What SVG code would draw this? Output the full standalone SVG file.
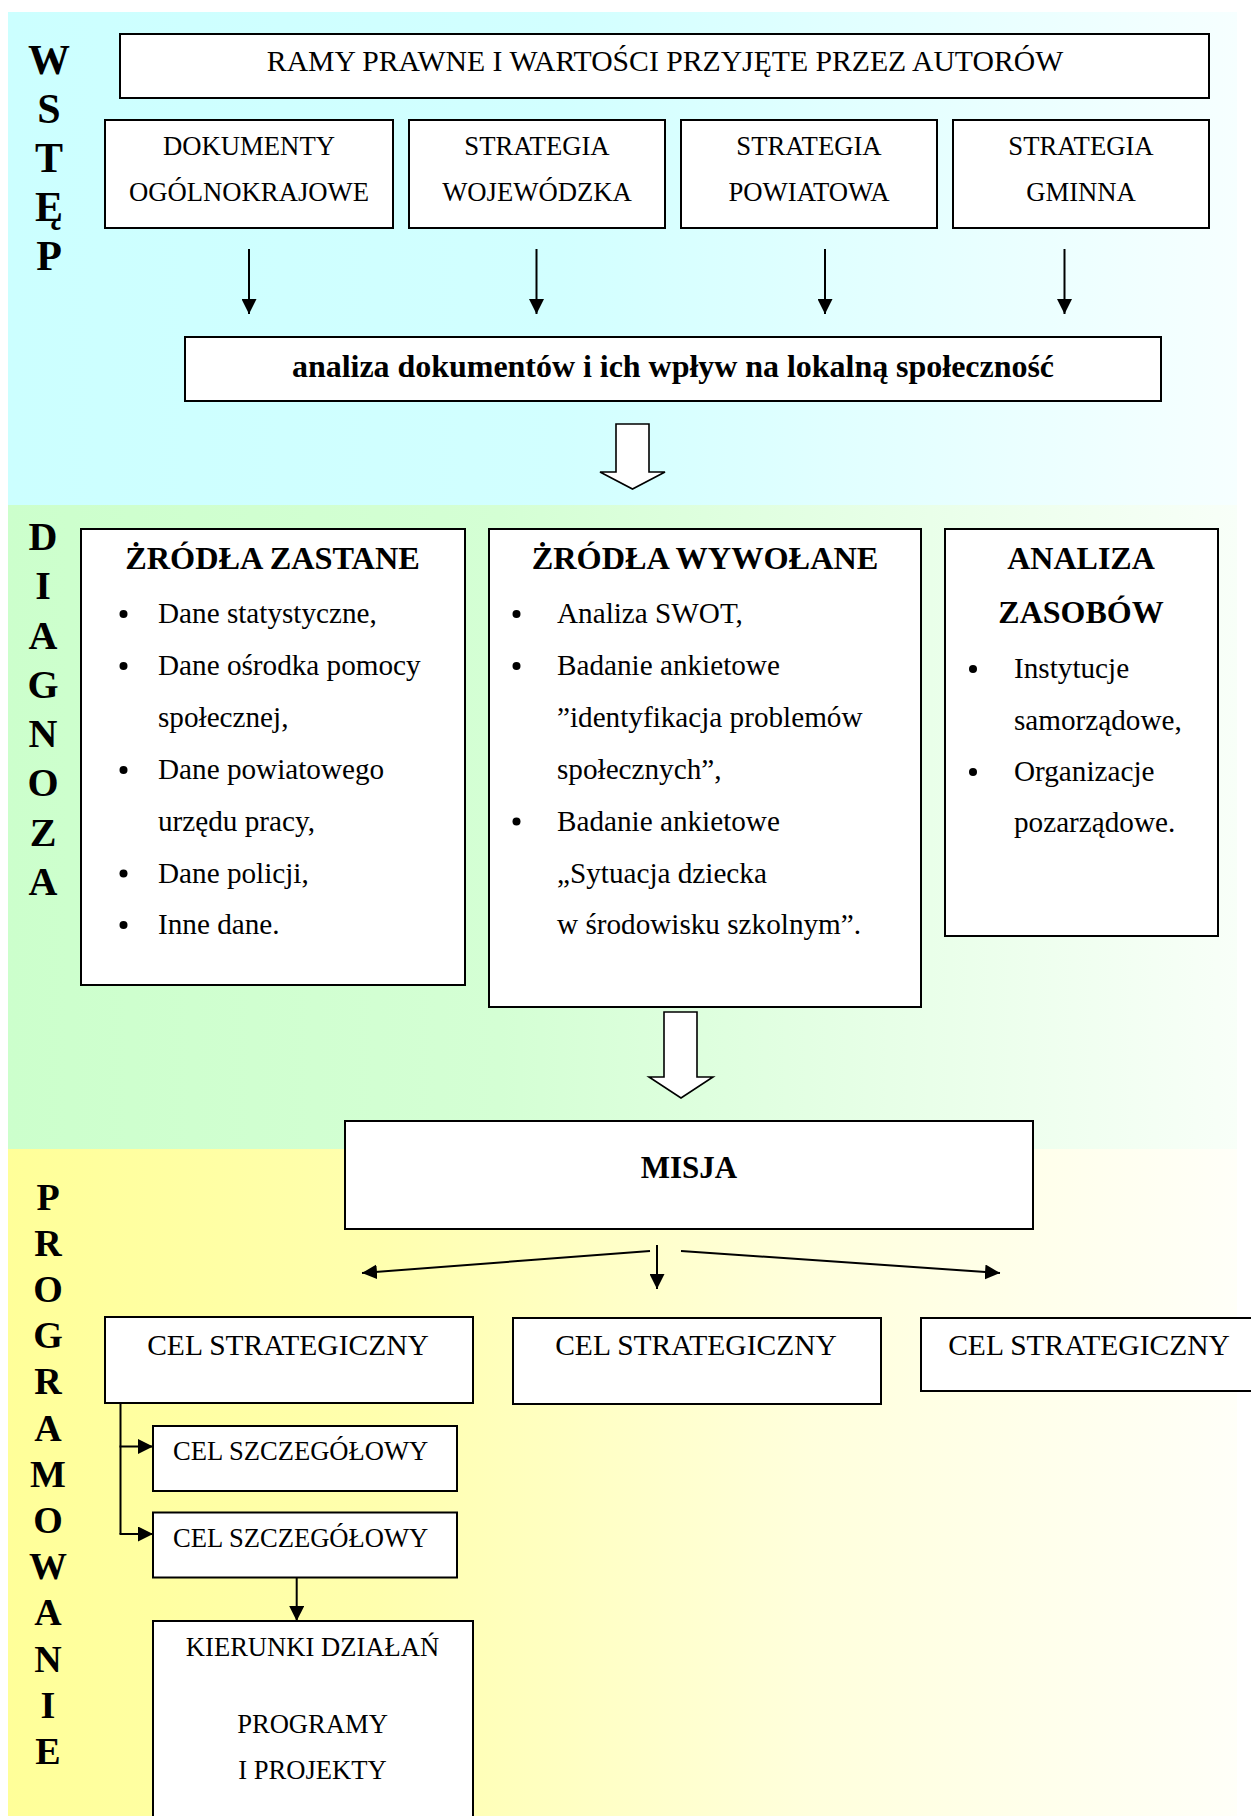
<svg xmlns="http://www.w3.org/2000/svg" width="1251" height="1816" viewBox="0 0 1251 1816">
<style>
.t{font-family:"Liberation Serif","Times New Roman",serif;fill:#000}
.b{font-weight:bold}
.c{text-anchor:middle}
.box{fill:#fff;stroke:#000;stroke-width:2}
.ln{fill:none;stroke:#000;stroke-width:2}
.hollow{fill:#fff;stroke:#000;stroke-width:1.6;stroke-linejoin:miter}
.side{font-family:"Liberation Serif","Times New Roman",serif;font-weight:bold;text-anchor:middle;fill:#000}
</style>
<defs>
<linearGradient id="gc" x1="0" y1="0" x2="1" y2="0">
<stop offset="0" stop-color="#CCFFFF"/><stop offset="0.45" stop-color="#D2FFFF"/><stop offset="1" stop-color="#F6FFFF"/>
</linearGradient>
<linearGradient id="gg" x1="0" y1="0" x2="1" y2="0">
<stop offset="0" stop-color="#CCFFCC"/><stop offset="0.4" stop-color="#D4FFD4"/><stop offset="1" stop-color="#F8FFF8"/>
</linearGradient>
<linearGradient id="gy" x1="0" y1="0" x2="1" y2="0">
<stop offset="0" stop-color="#FFFF99"/><stop offset="0.3" stop-color="#FFFFAE"/><stop offset="0.65" stop-color="#FFFFDC"/><stop offset="1" stop-color="#FFFFF8"/>
</linearGradient>
<marker id="ah" viewBox="0 0 10 10" refX="10" refY="5" markerWidth="15" markerHeight="15" markerUnits="userSpaceOnUse" orient="auto">
<path d="M0,0 L10,5 L0,10 z" fill="#000"/>
</marker>
</defs>

<g id="background">
<rect x="8" y="12" width="1229" height="493" fill="url(#gc)"/>
<rect x="8" y="505" width="1229" height="644" fill="url(#gg)"/>
<rect x="8" y="1149" width="1229" height="667" fill="url(#gy)"/>
</g>

<g id="label-wstep">
<text class="side" font-size="42"><tspan x="49" y="74">W</tspan><tspan x="49" y="123">S</tspan><tspan x="49" y="172">T</tspan><tspan x="49" y="221">Ę</tspan><tspan x="49" y="270">P</tspan></text>
</g>
<g id="label-diagnoza">
<text class="side" font-size="40"><tspan x="43" y="550">D</tspan><tspan x="43" y="599">I</tspan><tspan x="43" y="648.5">A</tspan><tspan x="43" y="698">G</tspan><tspan x="43" y="747">N</tspan><tspan x="43" y="796">O</tspan><tspan x="43" y="846">Z</tspan><tspan x="43" y="895">A</tspan></text>
</g>
<g id="label-programowanie">
<text class="side" font-size="38"><tspan x="48" y="1209.5">P</tspan><tspan x="48" y="1255.7">R</tspan><tspan x="48" y="1301.9">O</tspan><tspan x="48" y="1348.1">G</tspan><tspan x="48" y="1394.3">R</tspan><tspan x="48" y="1440.5">A</tspan><tspan x="48" y="1486.7">M</tspan><tspan x="48" y="1532.9">O</tspan><tspan x="48" y="1579.1">W</tspan><tspan x="48" y="1625.3">A</tspan><tspan x="48" y="1671.5">N</tspan><tspan x="48" y="1717.7">I</tspan><tspan x="48" y="1763.9">E</tspan></text>
</g>

<g id="connectors">
<line class="ln" x1="249" y1="249" x2="249" y2="314" marker-end="url(#ah)"/>
<line class="ln" x1="536.5" y1="249" x2="536.5" y2="314" marker-end="url(#ah)"/>
<line class="ln" x1="825" y1="249" x2="825" y2="314" marker-end="url(#ah)"/>
<line class="ln" x1="1064.5" y1="249" x2="1064.5" y2="314" marker-end="url(#ah)"/>
<polygon class="hollow" points="616,424 649,424 649,472 665,472 632.5,489 600,472 616,472"/>
<polygon class="hollow" points="664,1012 697,1012 697,1077 713,1077 681,1098 649,1077 664,1077"/>
<line class="ln" x1="657" y1="1245" x2="657" y2="1289" marker-end="url(#ah)"/>
<line class="ln" x1="650" y1="1251" x2="362" y2="1273" marker-end="url(#ah)"/>
<line class="ln" x1="681" y1="1251" x2="1000" y2="1273" marker-end="url(#ah)"/>
<path class="ln" d="M120.5,1403 V1534"/>
<line class="ln" x1="119.5" y1="1446.5" x2="153" y2="1446.5" marker-end="url(#ah)"/>
<line class="ln" x1="119.5" y1="1534" x2="153" y2="1534" marker-end="url(#ah)"/>
<line class="ln" x1="296.7" y1="1577.5" x2="296.7" y2="1621" marker-end="url(#ah)"/>
</g>

<g id="node-ramy">
<rect class="box" x="120" y="34" width="1089" height="64"/>
<text class="t c" x="665" y="71" font-size="29.7">RAMY PRAWNE I WARTOŚCI PRZYJĘTE PRZEZ AUTORÓW</text>
</g>
<g id="node-dokumenty">
<rect class="box" x="105" y="120" width="288" height="108"/>
<text class="t c" x="249" y="155" font-size="26.7">DOKUMENTY</text>
<text class="t c" x="249" y="201" font-size="26.7">OGÓLNOKRAJOWE</text>
</g>
<g id="node-wojewodzka">
<rect class="box" x="409" y="120" width="256" height="108"/>
<text class="t c" x="537" y="155" font-size="26.7">STRATEGIA</text>
<text class="t c" x="537" y="201" font-size="26.7">WOJEWÓDZKA</text>
</g>
<g id="node-powiatowa">
<rect class="box" x="681" y="120" width="256" height="108"/>
<text class="t c" x="809" y="155" font-size="26.7">STRATEGIA</text>
<text class="t c" x="809" y="201" font-size="26.7">POWIATOWA</text>
</g>
<g id="node-gminna">
<rect class="box" x="953" y="120" width="256" height="108"/>
<text class="t c" x="1081" y="155" font-size="26.7">STRATEGIA</text>
<text class="t c" x="1081" y="201" font-size="26.7">GMINNA</text>
</g>
<g id="node-analiza">
<rect class="box" x="185" y="337" width="976" height="64"/>
<text class="t b c" x="673" y="377" font-size="32" textLength="762" lengthAdjust="spacing">analiza dokumentów i ich wpływ na lokalną społeczność</text>
</g>

<g id="node-zastane">
<rect class="box" x="81" y="529" width="384" height="456"/>
<text class="t b c" x="272.5" y="569" font-size="32.3">ŻRÓDŁA ZASTANE</text>
<circle cx="123.5" cy="614" r="4"/>
<circle cx="123.5" cy="666" r="4"/>
<circle cx="123.5" cy="770" r="4"/>
<circle cx="123.5" cy="873.5" r="4"/>
<circle cx="123.5" cy="925" r="4"/>
<text class="t" x="158" y="623" font-size="29.2">Dane statystyczne,</text>
<text class="t" x="158" y="675" font-size="29.2">Dane ośrodka pomocy</text>
<text class="t" x="158" y="727" font-size="29.2">społecznej,</text>
<text class="t" x="158" y="779" font-size="29.2">Dane powiatowego</text>
<text class="t" x="158" y="830.5" font-size="29.2">urzędu pracy,</text>
<text class="t" x="158" y="882.5" font-size="29.2">Dane policji,</text>
<text class="t" x="158" y="934" font-size="29.2">Inne dane.</text>
</g>
<g id="node-wywolane">
<rect class="box" x="489" y="529" width="432" height="478"/>
<text class="t b c" x="705" y="569" font-size="32.3">ŻRÓDŁA WYWOŁANE</text>
<circle cx="516.5" cy="614" r="4"/>
<circle cx="516.5" cy="666" r="4"/>
<circle cx="516.5" cy="821.5" r="4"/>
<text class="t" x="557" y="623" font-size="29.2">Analiza SWOT,</text>
<text class="t" x="557" y="675" font-size="29.2">Badanie ankietowe</text>
<text class="t" x="557" y="727" font-size="29.2">”identyfikacja problemów</text>
<text class="t" x="557" y="779" font-size="29.2">społecznych”,</text>
<text class="t" x="557" y="830.5" font-size="29.2">Badanie ankietowe</text>
<text class="t" x="557" y="882.5" font-size="29.2">„Sytuacja dziecka</text>
<text class="t" x="557" y="934" font-size="29.2">w środowisku szkolnym”.</text>
</g>
<g id="node-zasoby">
<rect class="box" x="945" y="529" width="273" height="407"/>
<text class="t b c" x="1081" y="569" font-size="32">ANALIZA</text>
<text class="t b c" x="1081" y="623" font-size="32">ZASOBÓW</text>
<circle cx="973" cy="669" r="4"/>
<circle cx="973" cy="772" r="4"/>
<text class="t" x="1014" y="678" font-size="29.2">Instytucje</text>
<text class="t" x="1014" y="729.5" font-size="29.2">samorządowe,</text>
<text class="t" x="1014" y="781" font-size="29.2">Organizacje</text>
<text class="t" x="1014" y="832" font-size="29.2">pozarządowe.</text>
</g>

<g id="node-misja">
<rect class="box" x="345" y="1121" width="688" height="108"/>
<text class="t b c" x="689" y="1178" font-size="31">MISJA</text>
</g>
<g id="node-cel1">
<rect class="box" x="105" y="1317" width="368" height="86"/>
<text class="t c" x="288" y="1355" font-size="29.5">CEL STRATEGICZNY</text>
</g>
<g id="node-cel2">
<rect class="box" x="513" y="1318" width="368" height="86"/>
<text class="t c" x="696" y="1355" font-size="29.5">CEL STRATEGICZNY</text>
</g>
<g id="node-cel3">
<rect class="box" x="921" y="1318" width="336" height="73"/>
<text class="t c" x="1089" y="1355" font-size="29.5">CEL STRATEGICZNY</text>
</g>
<g id="node-szczegolowy1">
<rect class="box" x="153" y="1426" width="304" height="65"/>
<text class="t" x="173" y="1460" font-size="26.6">CEL SZCZEGÓŁOWY</text>
</g>
<g id="node-szczegolowy2">
<rect class="box" x="153" y="1512.5" width="304" height="65"/>
<text class="t" x="173" y="1547" font-size="26.6">CEL SZCZEGÓŁOWY</text>
</g>
<g id="node-kierunki">
<rect class="box" x="153" y="1621" width="320" height="220"/>
<text class="t c" x="312.5" y="1656" font-size="26.6">KIERUNKI DZIAŁAŃ</text>
<text class="t c" x="312.5" y="1733" font-size="26.6">PROGRAMY</text>
<text class="t c" x="312.5" y="1779" font-size="26.6">I PROJEKTY</text>
</g>
</svg>
